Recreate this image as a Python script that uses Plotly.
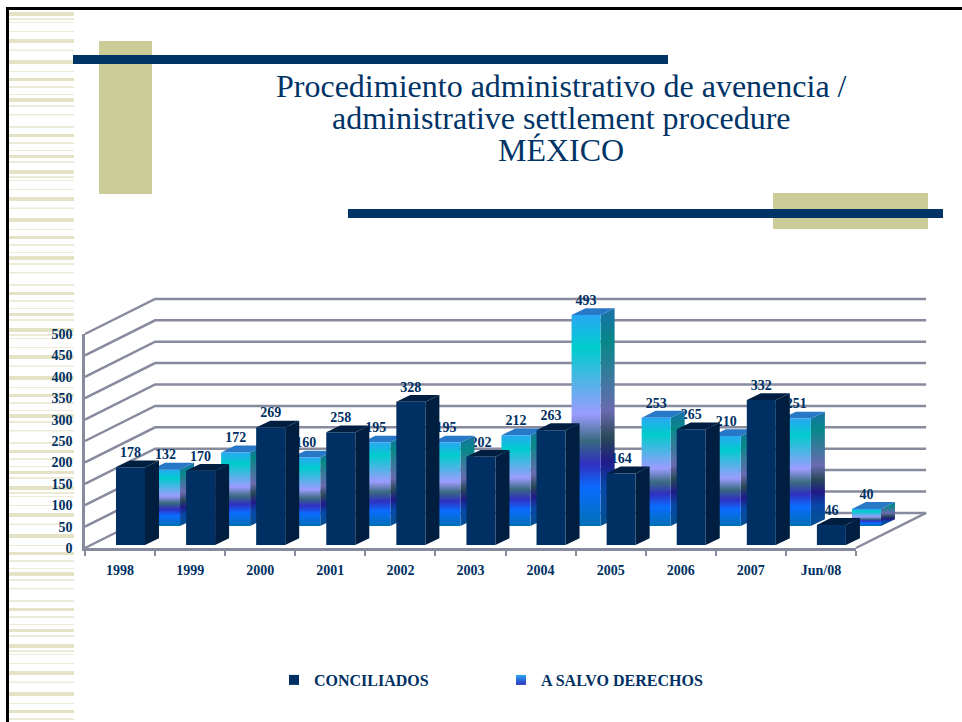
import plotly.graph_objects as go

# ---------- data ----------
categories = ["1998", "1999", "2000", "2001", "2002", "2003", "2004", "2005", "2006", "2007", "Jun/08"]
conciliados = [178, 170, 269, 258, 328, 202, 263, 164, 265, 332, 46]
a_salvo = [132, 172, 160, 195, 195, 212, 493, 253, 210, 251, 40]
y_ticks = [0, 50, 100, 150, 200, 250, 300, 350, 400, 450, 500]
title_lines = ["Procedimiento administrativo de avenencia /", "administrative settlement procedure", "MÉXICO"]
series_names = ["CONCILIADOS", "A SALVO DERECHOS"]

# ---------- style / geometry ----------
W, H = 962, 722
NAVY, NAVY_DK = "#003063", "#001f40"
OLIVE, GRID = "#CCCC99", "#888a9e"
STRIPE, STRIPE_THIN = "#e4e3c6", "#ecebd8"
FONT = "Liberation Serif"
WALL_DX, WALL_DY = 1.0, 82          # depth of chart floor in axis units
BAR_W, SIDE_DX, SIDE_DY = 0.414, 0.2, 16
FRONT_X, FRONT_BASE, FRONT_SCALE = -0.058, 7, 1.02
REAR_X, REAR_BASE = 0.442, 51.4
LABEL_UP = 32
PX_L, PX_R, PX_B, PX_T = 85, 856, 548, 334   # front plane of the chart
XS = 11 / (PX_R - PX_L)                      # x units per pixel
YS = 500 / (PX_B - PX_T)                     # y units per pixel

FACE = [[0, "#0070b4"], [0.18, "#0a6cff"], [0.295, "#3030c0"], [0.405, "#3a6a80"],
        [0.53, "#9c9cff"], [0.846, "#00cccc"], [1, "#29a8f4"]]
SIDE = [[0, "#045090"], [0.18, "#0848a8"], [0.295, "#201a88"], [0.405, "#284858"],
        [0.53, "#6a6ab0"], [0.846, "#078888"], [1, "#1a70a8"]]
TOP_REAR = "#2878c8"


def poly(xs, ys, color=None, gradient=None):
    d = dict(x=xs + xs[:1], y=ys + ys[:1], mode="lines", line=dict(width=0), fill="toself",
             hoverinfo="skip", showlegend=False, xaxis="x2", yaxis="y2")
    if gradient:
        d["fillgradient"] = dict(type="vertical", colorscale=gradient)
    else:
        d["fillcolor"] = color
    return go.Scatter(**d)


def bar3d(i, x_off, base, top, face, side, topc):
    x0 = i + x_off
    x1 = x0 + BAR_W
    out = []
    out.append(poly([x1, x1 + SIDE_DX, x1 + SIDE_DX, x1], [base, base + SIDE_DY, top + SIDE_DY, top],
                    **({"gradient": side} if isinstance(side, list) else {"color": side})))
    out.append(poly([x0, x1, x1 + SIDE_DX, x0 + SIDE_DX], [top, top, top + SIDE_DY, top + SIDE_DY], color=topc))
    out.append(poly([x0, x1, x1, x0], [base, base, top, top],
                    **({"gradient": face} if isinstance(face, list) else {"color": face})))
    return out


fig = go.Figure()

# legend entries (also keep the visible tick axes alive)
fig.add_trace(go.Scatter(x=[None], y=[None], mode="markers", name=series_names[0],
                         marker=dict(symbol="square", size=10, color=NAVY)))
fig.add_trace(go.Scatter(x=[None], y=[None], mode="markers", name=series_names[1],
                         marker=dict(symbol="square", size=10, color="#29a8f4",
                                     gradient=dict(type="vertical", color="#3030c0"))))

# chart walls: back grid, side grid, floor
gx, gy = [], []
for t in y_ticks:
    gx += [-0.5, -0.5 + WALL_DX, 10.5 + WALL_DX, None]
    gy += [t, t + WALL_DY, t + WALL_DY, None]
gx += [10.5, 10.5 + WALL_DX, None]
gy += [0, WALL_DY, None]
fig.add_trace(go.Scatter(x=gx, y=gy, mode="lines", line=dict(color=GRID, width=2.5),
                         hoverinfo="skip", showlegend=False, xaxis="x2", yaxis="y2"))

# front-series labels sit behind the rear bars
n = len(categories)
front_tops = [FRONT_BASE + FRONT_SCALE * v for v in conciliados]
rear_tops = [REAR_BASE + v for v in a_salvo]
lab = dict(mode="text", textposition="middle center", hoverinfo="skip", showlegend=False, xaxis="x2", yaxis="y2",
           textfont=dict(family=FONT, size=14, color=NAVY, weight="bold"))
fig.add_trace(go.Scatter(x=[i + FRONT_X + BAR_W / 2 for i in range(n)], y=[t + LABEL_UP for t in front_tops],
                         text=[str(v) for v in conciliados], **lab))

for i in range(n):
    for tr in bar3d(i, REAR_X, REAR_BASE, rear_tops[i], FACE, SIDE, TOP_REAR):
        fig.add_trace(tr)
fig.add_trace(go.Scatter(x=[i + REAR_X + BAR_W / 2 for i in range(n)], y=[t + LABEL_UP for t in rear_tops],
                         text=[str(v) for v in a_salvo], **lab))
for i in range(n):
    for tr in bar3d(i, FRONT_X, FRONT_BASE, front_tops[i], NAVY, NAVY_DK, NAVY_DK):
        fig.add_trace(tr)

# ---------- slide decoration ----------
shapes = []


def rect(x0, y0, x1, y1, color):
    shapes.append(dict(type="rect", xref="paper", yref="paper", layer="below", line=dict(width=0), fillcolor=color,
                       x0=x0 / W, x1=x1 / W, y0=1 - y0 / H, y1=1 - y1 / H))


stripe_tile = [(12, 16), (18, 20), (22, 23), (31, 32), (39, 43), (49.5, 51), (60, 64), (71, 72), (78, 81), (86, 88),
               (94, 95), (98, 102), (105, 107), (114, 115.5), (126, 128), (134, 137), (142, 144), (150, 151),
               (155, 158), (161, 163)]
for k in range(5):
    for a, b in stripe_tile:
        y0, y1 = a + 158 * k, b + 158 * k
        if y0 < H:
            rect(9, y0, 74, min(y1, H), STRIPE if b - a >= 3 else STRIPE_THIN)
rect(6, 7, 9, H, "#000000")
rect(6, 7, W, 10, "#000000")
rect(99, 41, 152, 194, OLIVE)
rect(773, 193, 928, 229, OLIVE)
rect(73, 55, 668, 64, "#003366")
rect(348, 209, 943, 218, "#003366")

annotations = [dict(text=t, xref="paper", yref="paper", x=561 / W, y=1 - yc / H, xanchor="center", yanchor="middle",
                    showarrow=False, font=dict(family=FONT, size=32, color="#003366"))
               for t, yc in zip(title_lines, [86, 118, 150])]

axis_font = dict(family=FONT, size=14, color=NAVY, weight="bold")
fig.update_layout(
    width=W, height=H, autosize=False, margin=dict(l=0, r=0, t=0, b=0, autoexpand=False),
    paper_bgcolor="white", plot_bgcolor="rgba(0,0,0,0)", shapes=shapes, annotations=annotations,
    xaxis=dict(domain=[PX_L / W, PX_R / W], range=[-0.5, 10.5], tickmode="array",
               tickvals=list(range(n)), ticktext=categories, ticks="", showgrid=False, zeroline=False,
               showline=True, linecolor=GRID, linewidth=2.5, tickfont=axis_font, ticklabelstandoff=7,
               minor=dict(tickmode="array", tickvals=[i - 0.5 for i in range(n + 1)], ticks="outside",
                          ticklen=5, tickwidth=2, tickcolor=GRID)),
    yaxis=dict(domain=[(H - PX_B) / H, (H - PX_T) / H], range=[0, 500], tickmode="array",
               tickvals=y_ticks, ticks="", showgrid=False, zeroline=False, showline=True, linecolor=GRID,
               linewidth=2.5, tickfont=axis_font, ticklabelstandoff=7),
    # full-page overlay axes on the same scale, so the 3-D depth of the marks is not clipped
    xaxis2=dict(domain=[0, 1], range=[-0.5 - PX_L * XS, -0.5 + (W - PX_L) * XS], visible=False, anchor="y2"),
    yaxis2=dict(domain=[0, 1], range=[-(H - PX_B) * YS, PX_B * YS], visible=False, anchor="x2"),
    legend=dict(orientation="h", x=274 / W, y=1 - 680 / H, xanchor="left", yanchor="middle",
                entrywidth=182, entrywidthmode="pixels", font=dict(family=FONT, size=16, color=NAVY, weight="bold"),
                bgcolor="rgba(0,0,0,0)"),
)

fig.write_html("out.html", post_script="document.body.style.margin='0';", config={"displayModeBar": False})
